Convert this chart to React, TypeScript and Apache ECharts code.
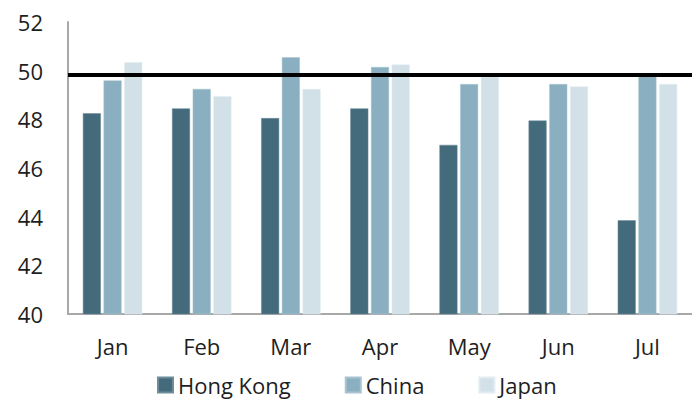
import React, { useEffect, useRef } from "react";
import * as echarts from "echarts";

const categories = ["Jan", "Feb", "Mar", "Apr", "May", "Jun", "Jul"];
const hongKong = [48.25, 48.45, 48.05, 48.45, 46.95, 47.95, 43.85];
const china = [49.6, 49.25, 50.55, 50.15, 49.45, 49.45, 49.8];
const japan = [50.35, 48.95, 49.25, 50.25, 49.75, 49.35, 49.45];
const yTicks = { min: 40, max: 52, interval: 2 };
const thresholdValue = 49.85;

const FONT = "'Open Sans', sans-serif";

export default function App() {
  const ref = useRef<HTMLDivElement>(null);
  useEffect(() => {
    document.body.style.margin = "0";
    const chart = echarts.init(ref.current!, null, { renderer: "svg" });
    chart.setOption({
      animation: false,
      textStyle: { fontFamily: FONT },
      grid: { left: 68, top: 22, width: 639, height: 292, containLabel: false },
      legend: {
        left: 157,
        top: 374,
        padding: 0,
        icon: "rect",
        itemWidth: 15,
        itemHeight: 15,
        itemGap: 54,
        textStyle: { fontSize: 22, lineHeight: 22, color: "#1e1e1e", fontFamily: FONT, padding: [0, 0, 0, 0] },
        data: ["Hong Kong", "China", "Japan"],
      },
      xAxis: {
        type: "category",
        data: categories,
        axisLine: { lineStyle: { color: "#a8a8a8", width: 2 } },
        axisTick: { show: false },
        axisLabel: { fontSize: 22, color: "#1e1e1e", margin: 21, fontFamily: FONT },
      },
      yAxis: {
        type: "value",
        min: yTicks.min,
        max: yTicks.max,
        interval: yTicks.interval,
        axisLine: { show: true, lineStyle: { color: "#a8a8a8", width: 2 } },
        axisTick: { show: false },
        splitLine: { show: false },
        axisLabel: { fontSize: 22, color: "#1e1e1e", margin: 25, fontFamily: FONT },
      },
      series: [
        {
          name: "Hong Kong",
          type: "bar",
          data: hongKong,
          barWidth: 18,
          barGap: "15%",
          itemStyle: { color: "#436b7c", borderColor: "#6d8d9a", borderWidth: 0.5 },
          markLine: {
            silent: true,
            symbol: ["none", "none"],
            label: { show: false },
            lineStyle: { color: "#000", width: 4, type: "solid" },
            data: [{ yAxis: thresholdValue }],
          },
          z: 2,
        },
        {
          name: "China",
          type: "bar",
          data: china,
          barWidth: 18,
          barGap: "15%",
          itemStyle: { color: "#8aafc1", borderColor: "#a9c4d1", borderWidth: 0.5 },
        },
        {
          name: "Japan",
          type: "bar",
          data: japan,
          barWidth: 18,
          barGap: "15%",
          itemStyle: { color: "#d2e0e8", borderColor: "#e2ecf1", borderWidth: 0.5 },
        },
      ],
    });
    return () => chart.dispose();
  }, []);
  return <div ref={ref} style={{ width: 692, height: 402 }} />;
}
